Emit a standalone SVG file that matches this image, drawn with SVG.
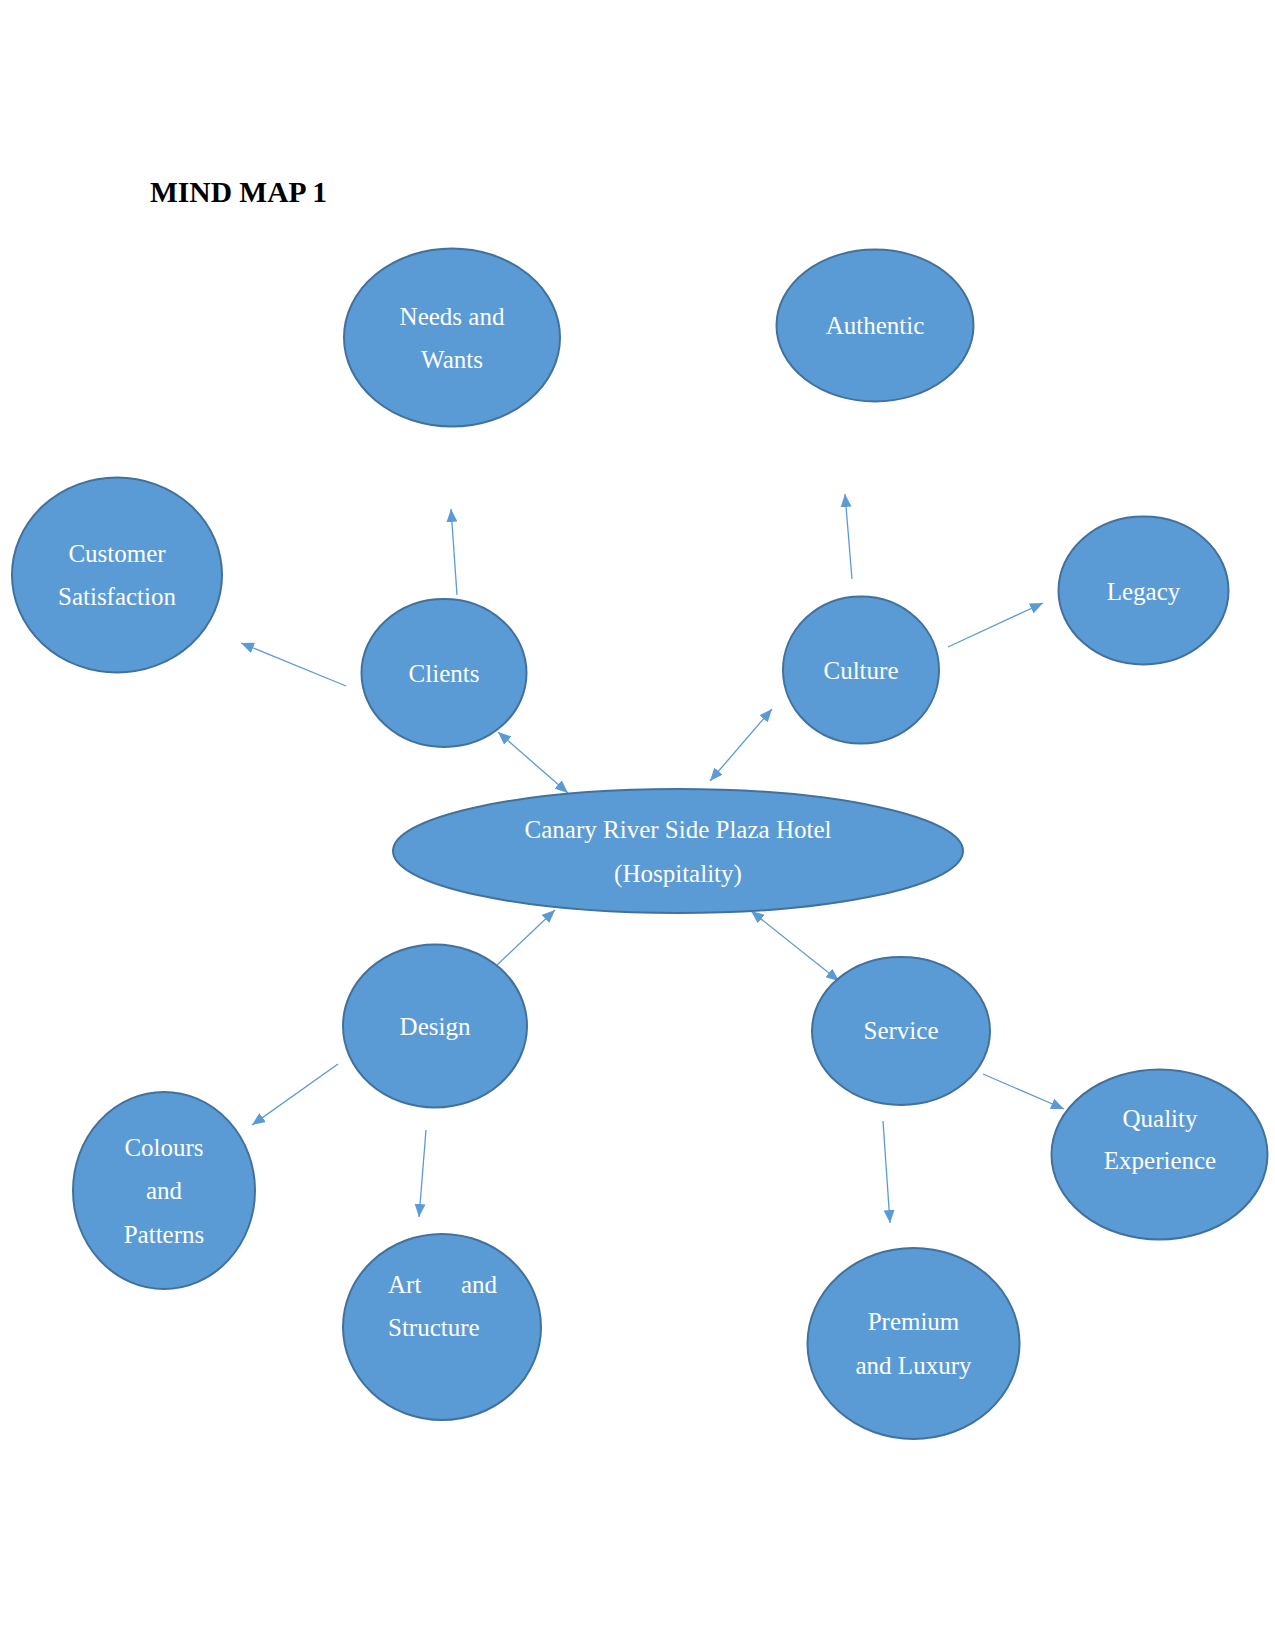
<svg xmlns="http://www.w3.org/2000/svg" width="1275" height="1650" viewBox="0 0 1275 1650">
<defs>
<style>
.node ellipse{fill:#5b9bd5;stroke:#41719c;stroke-width:2}
.node text{fill:#ffffff;font-family:"Liberation Serif","Times New Roman",serif;font-size:25px;text-anchor:middle}
.title{fill:#000;font-family:"Liberation Serif","Times New Roman",serif;font-size:29.5px;font-weight:bold}
#connectors line{stroke:#5b9bd5;stroke-width:1.3;fill:none}
</style>
<marker id="ah" viewBox="0 0 13 11" refX="13" refY="5.5" markerWidth="13" markerHeight="11" markerUnits="userSpaceOnUse" orient="auto-start-reverse">
<path d="M0,0 L13,5.5 L0,11 z" fill="#5b9bd5"/>
</marker>
</defs>
<rect width="1275" height="1650" fill="#ffffff"/>
<text class="title" x="150" y="202">MIND MAP 1</text>

<g id="connectors">
<line x1="457" y1="595" x2="451" y2="509" marker-end="url(#ah)"/>
<line x1="346" y1="686" x2="241" y2="643" marker-end="url(#ah)"/>
<line x1="568" y1="793" x2="498" y2="732" marker-start="url(#ah)" marker-end="url(#ah)"/>
<line x1="710" y1="781" x2="772" y2="709" marker-start="url(#ah)" marker-end="url(#ah)"/>
<line x1="852" y1="579" x2="845" y2="494" marker-end="url(#ah)"/>
<line x1="948" y1="647" x2="1043" y2="603" marker-end="url(#ah)"/>
<line x1="497" y1="965" x2="555" y2="910" marker-end="url(#ah)"/>
<line x1="338" y1="1064" x2="252" y2="1125" marker-end="url(#ah)"/>
<line x1="426" y1="1130" x2="419" y2="1217" marker-end="url(#ah)"/>
<line x1="751" y1="911" x2="839" y2="981" marker-start="url(#ah)" marker-end="url(#ah)"/>
<line x1="983" y1="1074" x2="1064" y2="1109" marker-end="url(#ah)"/>
<line x1="883" y1="1121" x2="890" y2="1223" marker-end="url(#ah)"/>
</g>

<g id="needs" class="node">
<ellipse cx="452" cy="337.5" rx="108" ry="89"/>
<text x="452" y="325">Needs and</text>
<text x="452" y="368">Wants</text>
</g>
<g id="authentic" class="node">
<ellipse cx="875" cy="325.5" rx="98.5" ry="76"/>
<text x="875" y="334">Authentic</text>
</g>
<g id="customer" class="node">
<ellipse cx="117" cy="575" rx="105" ry="97.5"/>
<text x="117" y="562">Customer</text>
<text x="117" y="605">Satisfaction</text>
</g>
<g id="clients" class="node">
<ellipse cx="444" cy="673" rx="82.5" ry="74"/>
<text x="444" y="682">Clients</text>
</g>
<g id="culture" class="node">
<ellipse cx="861" cy="670" rx="78" ry="73.5"/>
<text x="861" y="679">Culture</text>
</g>
<g id="legacy" class="node">
<ellipse cx="1143.5" cy="590.5" rx="85" ry="74"/>
<text x="1143.5" y="600">Legacy</text>
</g>
<g id="central" class="node">
<ellipse cx="678" cy="851" rx="285" ry="62"/>
<text x="678" y="838">Canary River Side Plaza Hotel</text>
<text x="678" y="882">(Hospitality)</text>
</g>
<g id="design" class="node">
<ellipse cx="435" cy="1026" rx="92" ry="81.5"/>
<text x="435" y="1035">Design</text>
</g>
<g id="service" class="node">
<ellipse cx="901" cy="1031" rx="89" ry="74"/>
<text x="901" y="1039">Service</text>
</g>
<g id="quality" class="node">
<ellipse cx="1159.5" cy="1154.5" rx="108" ry="85"/>
<text x="1160" y="1127">Quality</text>
<text x="1160" y="1169">Experience</text>
</g>
<g id="colours" class="node">
<ellipse cx="164" cy="1190.5" rx="91" ry="98.5"/>
<text x="164" y="1156">Colours</text>
<text x="164" y="1199">and</text>
<text x="164" y="1243">Patterns</text>
</g>
<g id="art" class="node">
<ellipse cx="442" cy="1327" rx="99" ry="93"/>
<text x="388" y="1293" style="text-anchor:start">Art</text>
<text x="497" y="1293" style="text-anchor:end">and</text>
<text x="388" y="1336" style="text-anchor:start">Structure</text>
</g>
<g id="premium" class="node">
<ellipse cx="913.5" cy="1343.5" rx="106" ry="95.5"/>
<text x="913.5" y="1330">Premium</text>
<text x="913.5" y="1374">and Luxury</text>
</g>
</svg>
